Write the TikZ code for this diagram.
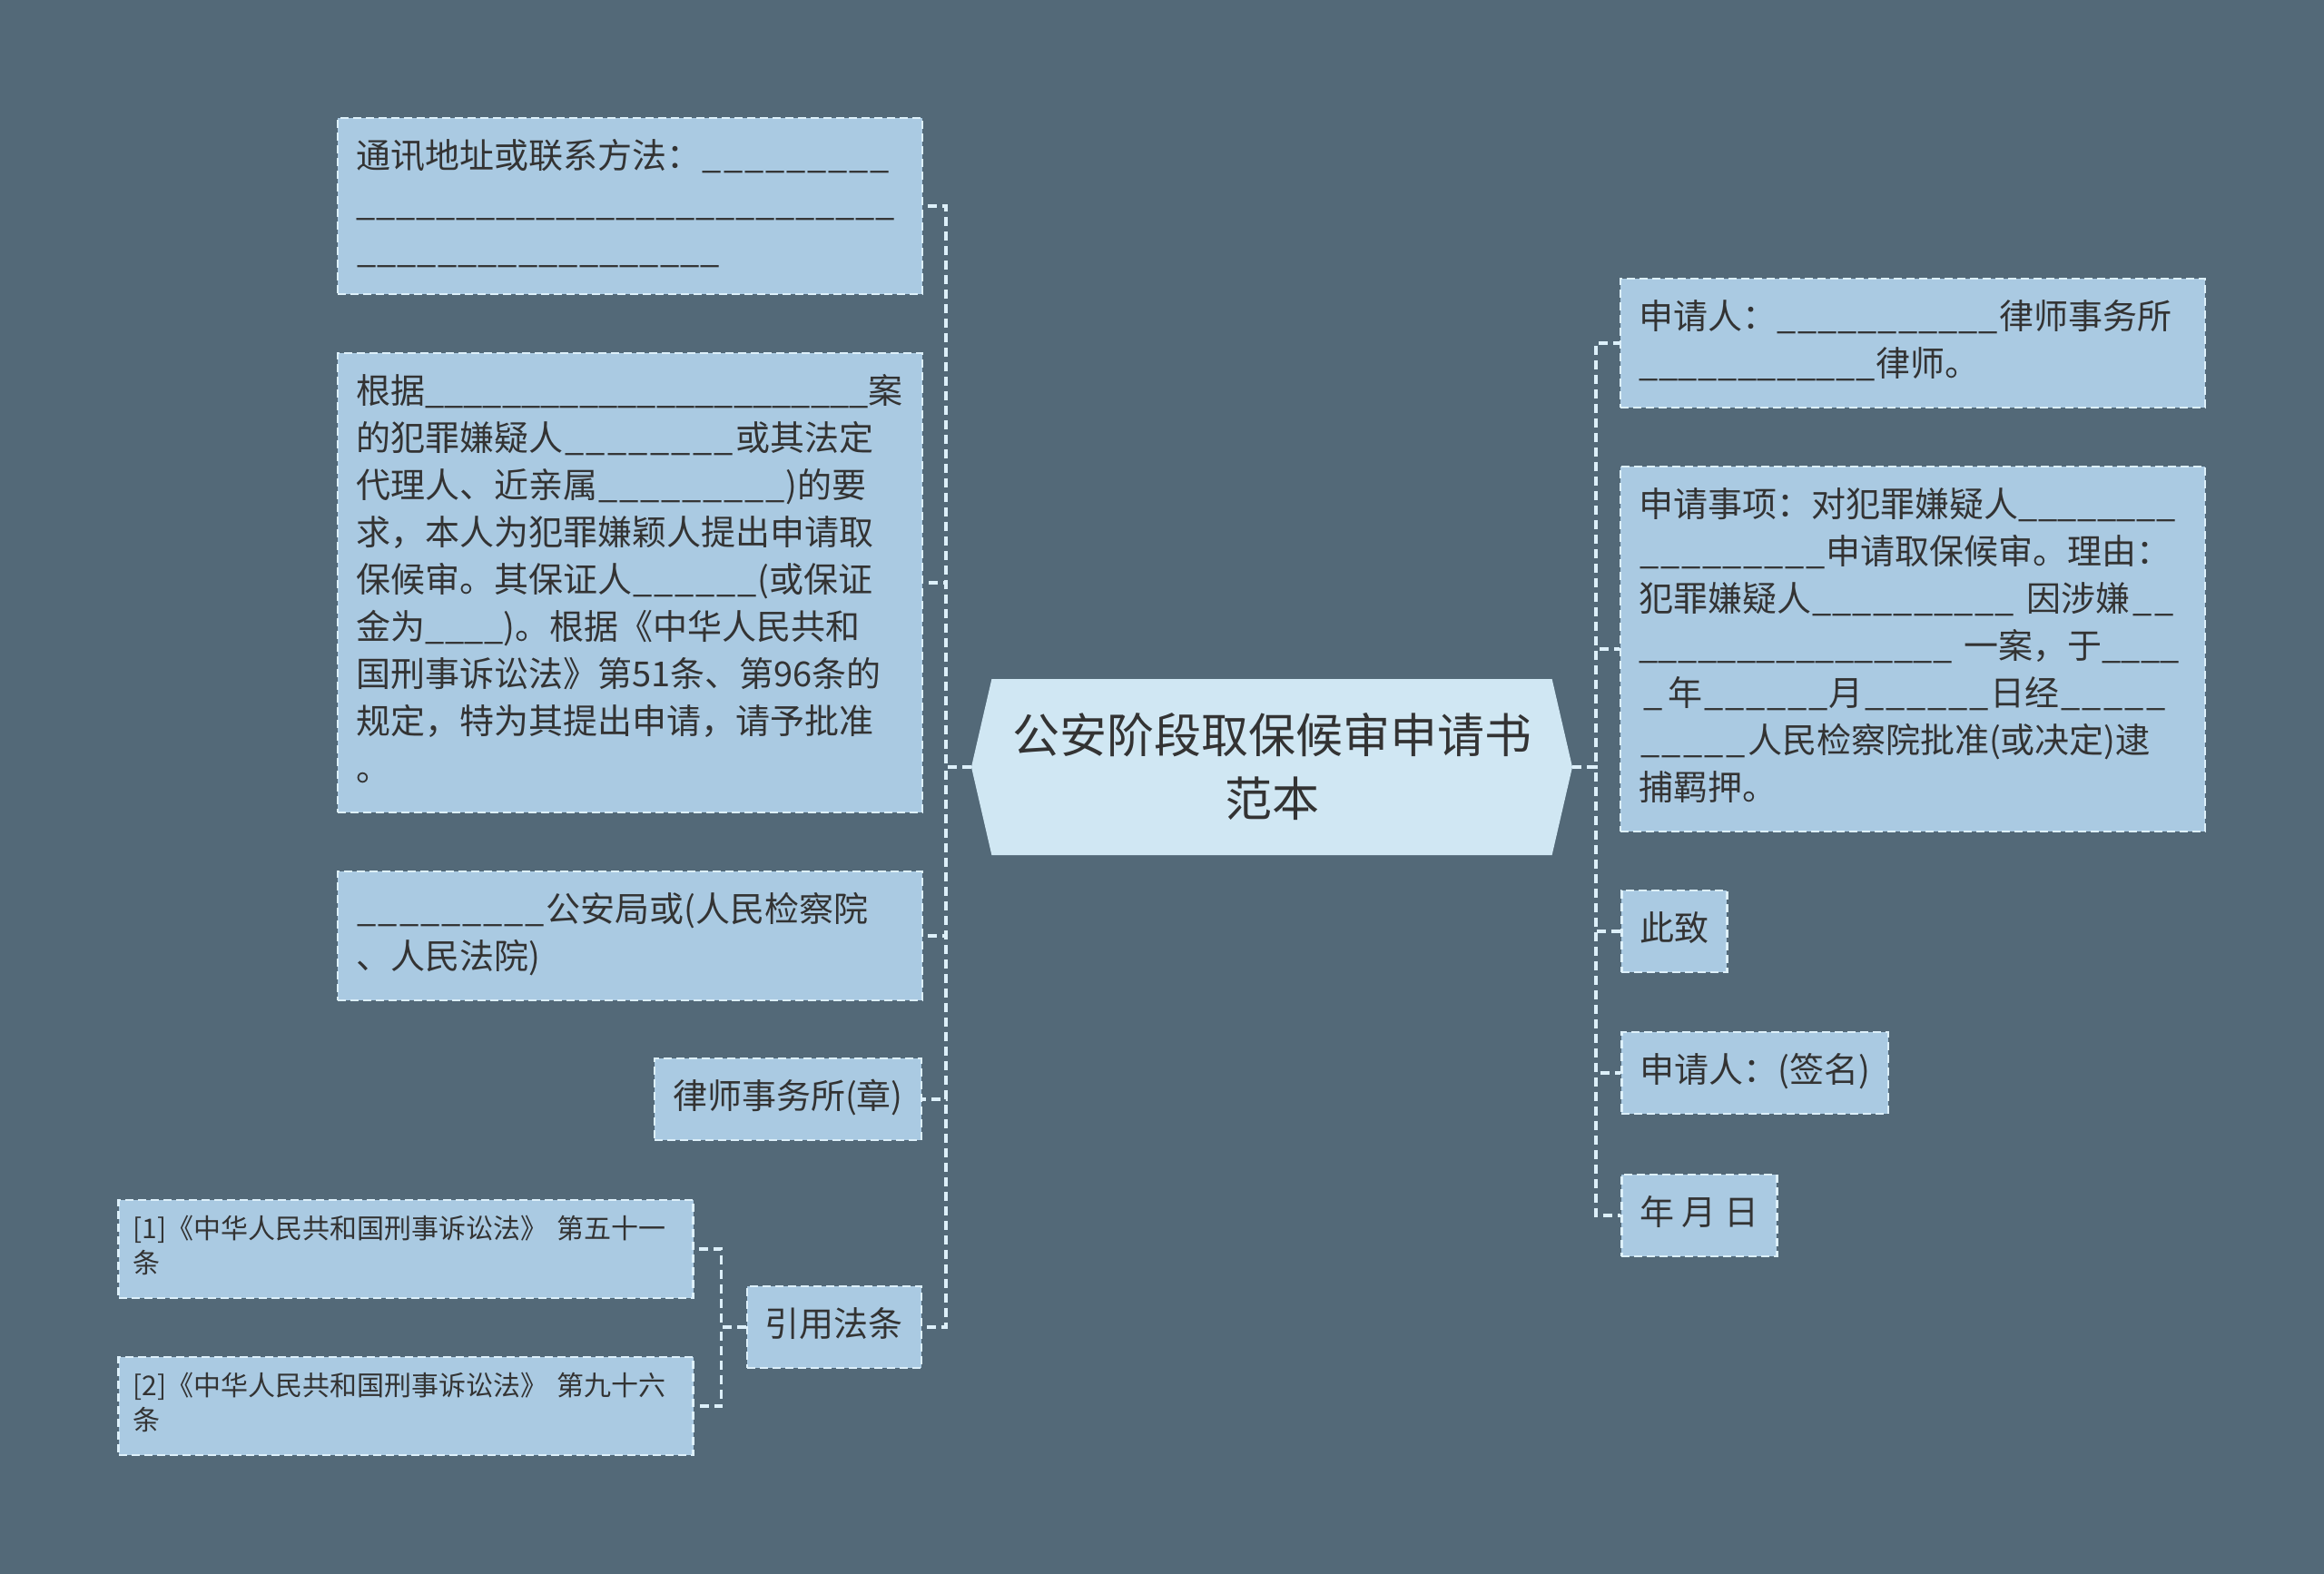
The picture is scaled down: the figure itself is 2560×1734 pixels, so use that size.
\documentclass[tikz,border=0pt]{standalone}
\usepackage{tikz}
\usepackage{xcolor}
\usepackage{fontspec}
\setmainfont{Noto Sans CJK SC}
\usetikzlibrary{shapes.symbols}

\definecolor{bgslate}{HTML}{536978}
\definecolor{boxblue}{HTML}{AACAE2}
\definecolor{rootblue}{HTML}{D0E7F3}
\definecolor{edgewhite}{HTML}{DDF0FA}
\definecolor{inkgray}{HTML}{333333}

\newcommand{\blank}[1]{\leavevmode\hbox to #1pt{\xleaders\hbox{\_}\hfill}}

\begin{document}
\begin{tikzpicture}[x=1pt,y=1pt,
	leafbox/.style={draw=edgewhite,fill=boxblue,line width=2.5pt,dash pattern=on 9pt off 5pt,
		text=inkgray,inner xsep=20pt,inner ysep=19pt,align=left,
		font=\fontsize{38}{52}\selectfont,execute at begin node=\strut,execute at end node=\strut},
	widebox/.style={leafbox,text width=604pt},
	lawbox/.style={leafbox,font=\fontsize{30}{38}\selectfont,inner sep=16pt,text width=601pt},
	rootbox/.style={signal,signal to=east and west,signal pointer angle=154,fill=rootblue,
		text=inkgray,align=center,minimum width=662pt,minimum height=194pt,
		font=\fontsize{52}{70}\selectfont},
	link/.style={edgewhite,line width=3.5pt,dash pattern=on 10pt off 6pt}]
				\useasboundingbox (0,0) rectangle (2560,-1734);
				\fill [bgslate] (0,0) rectangle (2560,-1734);
				\node [rootbox] (root) at (1401,-845) {公安阶段取保候审申请书\\范本};
				\node [widebox] (addr) at (694,-227) {通讯地址或联系方法：\blank{210}\\\blank{594}\\\blank{402}};
				\node [widebox] (basis) at (694,-642) {根据\blank{489}案\\的犯罪嫌疑人\blank{190}或其法定\\代理人、近亲属\blank{208})的要\\求，本人为犯罪嫌颖人提出申请取\\保候审。其保证人\blank{139}(或保证\\金为\blank{87})。根据《中华人民共和\\国刑事诉讼法》第51条、第96条的\\规定，特为其提出申请，请予批准\\。};
				\node [widebox] (office) at (694,-1031) {\blank{210}公安局或(人民检察院\\、人民法院)};
				\node [leafbox,anchor=east] (seal) at (1016,-1211) {律师事务所(章)};
				\node [leafbox,anchor=east] (laws) at (1016,-1462) {引用法条};
				\node [lawbox] (law51) at (447,-1376) {[1]《中华人民共和国刑事诉讼法》 第五十一\\条};
				\node [lawbox] (law96) at (447,-1549) {[2]《中华人民共和国刑事诉讼法》 第九十六\\条};
				\node [widebox] (lawyer) at (2107,-378) {申请人：\blank{245}律师事务所\\\blank{261}律师。};
				\node [widebox] (matter) at (2107,-715) {申请事项：对犯罪嫌疑人\blank{174}\\\blank{207}申请取保候审。理由：\\犯罪嫌疑人\blank{225} 因涉嫌\blank{51}\\\blank{346} 一案，于\blank{85}\\\blank{33}年\blank{139}月\blank{139}日经\blank{120}\\\blank{120}人民检察院批准(或决定)逮\\捕羁押。};
				\node [leafbox,anchor=west] (salute) at (1785,-1026) {此致};
				\node [leafbox,anchor=west] (sign) at (1785,-1182) {申请人：(签名)};
				\node [leafbox,anchor=west] (date) at (1785,-1339) {年 月 日};
				\foreach \n in {addr,basis,office,seal,laws}
					\draw [link] (root.west) -- ++(-28,0) |- (\n.east);
				\foreach \n in {lawyer,matter,salute,sign,date}
					\draw [link] (root.east) -- ++(26,0) |- (\n.west);
				\foreach \n in {law51,law96}
					\draw [link] (laws.west) -- ++(-27,0) |- (\n.east);
\end{tikzpicture}
\end{document}
